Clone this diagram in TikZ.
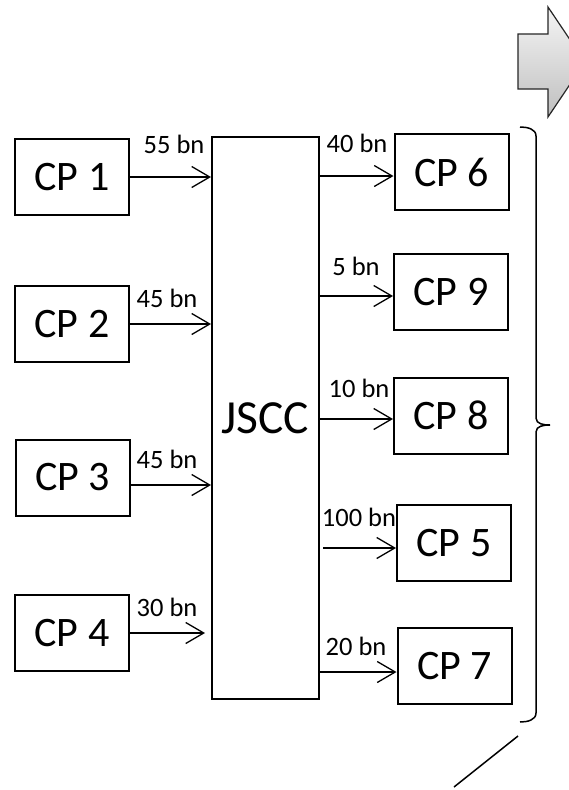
\documentclass[tikz,border=0pt]{standalone}
\usepackage{fontspec}
\setmainfont{Carlito}
\usetikzlibrary{arrows.meta}
\tikzset{
  cpbox/.style={draw, line width=2pt, minimum width=114pt, minimum height=76pt, inner sep=0pt, font=\fontsize{42}{42}\selectfont},
  bigbox/.style={draw, line width=2pt, minimum width=107pt, minimum height=562pt, inner sep=0pt, font=\fontsize{47.5}{47.5}\selectfont},
  lbl/.style={anchor=base, inner sep=0pt, font=\fontsize{26.5}{26.5}\selectfont},
  arr/.style={line width=1.3pt, -{Straight Barb[length=18pt, width=21pt, line width=1.3pt]}},
}
\begin{document}
\begin{tikzpicture}[x=1pt, y=-1pt]
\clip (0,0) rectangle (569,790);
\fill[white] (0,0) rectangle (569,790);

% gray block arrow
\shade[top color=gray!8, bottom color=gray!50]
  (518,34) -- (548,34) -- (548,7) -- (585,62) -- (548,117) -- (548,89) -- (518,89) -- cycle;
\draw[line width=1.2pt, draw=black!85]
  (518,34) -- (548,34) -- (548,7) -- (585,62) -- (548,117) -- (548,89) -- (518,89) -- cycle;

% central box
\node[bigbox] (jscc) at (265.5,418) {JSCC};

% left boxes
\node[cpbox] (cp1) at (72,177) {CP 1};
\node[cpbox] (cp2) at (72,324) {CP 2};
\node[cpbox] (cp3) at (72.5,477.5) {CP 3};
\node[cpbox] (cp4) at (72,633) {CP 4};

% right boxes
\node[cpbox] (cp6) at (451.5,172) {CP 6};
\node[cpbox] (cp9) at (451,292) {CP 9};
\node[cpbox] (cp8) at (451,415.5) {CP 8};
\node[cpbox] (cp5) at (454,543) {CP 5};
\node[cpbox] (cp7) at (454.5,666) {CP 7};

% left arrows
\draw[arr] (cp1.east) -- (cp1.east -| jscc.west);
\draw[arr] (cp2.east) -- (cp2.east -| jscc.west);
\coordinate (a3) at ([yshift=-7.5pt]cp3.east);
\draw[arr] (a3) -- (a3 -| jscc.west);
\draw[arr, shorten >=6pt] (cp4.east) -- (cp4.east -| jscc.west);

% right arrows
\coordinate (b6) at ([yshift=-4pt]cp6.west);
\draw[arr] (b6 -| jscc.east) -- (b6);
\coordinate (b9) at ([yshift=-4pt]cp9.west);
\draw[arr] (b9 -| jscc.east) -- (b9);
\coordinate (b8) at ([yshift=-3.5pt]cp8.west);
\draw[arr] (b8 -| jscc.east) -- (b8);
\coordinate (b5) at ([yshift=-5pt]cp5.west);
\draw[arr, shorten <=3pt] (b5 -| jscc.east) -- (b5);
\coordinate (b7) at ([yshift=-6pt]cp7.west);
\draw[arr, shorten <=-2pt] (b7 -| jscc.east) -- (b7);

% labels
\node[lbl] (l1) at (174,153) {55 bn};
\node[lbl] (l2) at (167,307) {45 bn};
\node[lbl] (l3) at (167,468) {45 bn};
\node[lbl] (l4) at (167,616) {30 bn};
\node[lbl] (l6) at (357,152) {40 bn};
\node[lbl] (l9) at (356,275) {5 bn};
\node[lbl] (l8) at (359,397) {10 bn};
\node[lbl] (l5) at (359,526) {100 bn};
\node[lbl] (l7) at (356,655) {20 bn};

% right brace
\draw[line width=1.5pt]
  (520,127) to[out=0,in=90] (536,136) -- (536,418) to[out=-90,in=180] (550,425)
  to[out=180,in=90] (536,432) -- (536,713) to[out=-90,in=0] (520,722);

% slanted line
\coordinate (s1) at (518,736);
\coordinate (s2) at (454,787);
\draw[line width=1.5pt] (s1) -- (s2);
\end{tikzpicture}
\end{document}
